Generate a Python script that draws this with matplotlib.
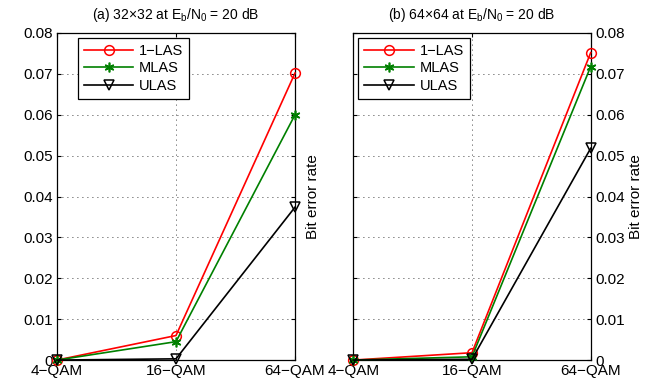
import matplotlib
matplotlib.use("Agg")
import matplotlib.pyplot as plt

plt.rcParams['font.family'] = ['Liberation Sans', 'DejaVu Sans']
plt.rcParams['mathtext.default'] = 'regular'
plt.rcParams['font.size'] = 10

# data
categories = ['4\u2212QAM', '16\u2212QAM', '64\u2212QAM']
series_names = ['1\u2212LAS', 'MLAS', 'ULAS']

las1_32 = [0.0, 0.0060, 0.0702]
mlas_32 = [0.0, 0.0045, 0.0600]
ulas_32 = [0.0, 0.0003, 0.0374]

las1_64 = [0.0, 0.0018, 0.0752]
mlas_64 = [0.0, 0.0008, 0.0718]
ulas_64 = [0.0, 0.0002, 0.0518]

titles = [r'(a) 32$\times$32 at E$_b$/N$_0$ = 20 dB',
          r'(b) 64$\times$64 at E$_b$/N$_0$ = 20 dB']

styles = [dict(color='red', marker='o', mfc='none', ms=7, mew=1.1),
          dict(color='green', marker=(6, 2, 0), ms=7, mew=1.2),
          dict(color='black', marker='v', mfc='none', ms=7, mew=1.1)]

fig = plt.figure(figsize=(6.47, 3.88), dpi=100)
ax1 = fig.add_axes([0.088, 0.072, 0.368, 0.843])
ax2 = fig.add_axes([0.546, 0.072, 0.367, 0.843])

legend_anchor = [(0.088, 0.985), (0.022, 0.985)]

x = list(range(len(categories)))
for ax, data, title, anchor in [(ax1, [las1_32, mlas_32, ulas_32], titles[0], legend_anchor[0]),
                                (ax2, [las1_64, mlas_64, ulas_64], titles[1], legend_anchor[1])]:
    for name, vals, st in zip(series_names, data, styles):
        ax.plot(x, vals, label=name, lw=1.2, clip_on=False, zorder=3, **st)
    ax.set_xlim(0, 2)
    ax.set_ylim(0, 0.08)
    ax.set_xticks(x)
    ax.set_xticklabels(categories)
    ax.set_yticks([0, 0.01, 0.02, 0.03, 0.04, 0.05, 0.06, 0.07, 0.08])
    ax.set_yticklabels(['0', '0.01', '0.02', '0.03', '0.04', '0.05', '0.06', '0.07', '0.08'])
    ax.grid(True, ls=(0, (1, 5)), color='black', lw=0.6)
    ax.tick_params(direction='in', top=True, right=True, labelsize=11, length=3, pad=3)
    ax.set_title(title, fontsize=10, pad=10)
    for s in ax.spines.values():
        s.set_linewidth(0.9)
    leg = ax.legend(loc='upper left', bbox_to_anchor=anchor, fancybox=False,
                    edgecolor='black', framealpha=1, fontsize=10.5,
                    handlelength=3.4, handletextpad=0.4,
                    borderaxespad=0.0, labelspacing=0.25, borderpad=0.4)
    leg.get_frame().set_linewidth(0.9)

ax1.set_ylabel('Bit error rate', fontsize=11)
ax1.yaxis.set_label_position('right')
ax1.yaxis.set_label_coords(1.045, 0.5)

ax2.yaxis.tick_right()
ax2.tick_params(left=True, labelleft=False, labelright=True)
ax2.set_ylabel('Bit error rate', fontsize=11)
ax2.yaxis.set_label_position('right')
ax2.yaxis.set_label_coords(1.16, 0.5)

fig.savefig('out.png', dpi=100)
